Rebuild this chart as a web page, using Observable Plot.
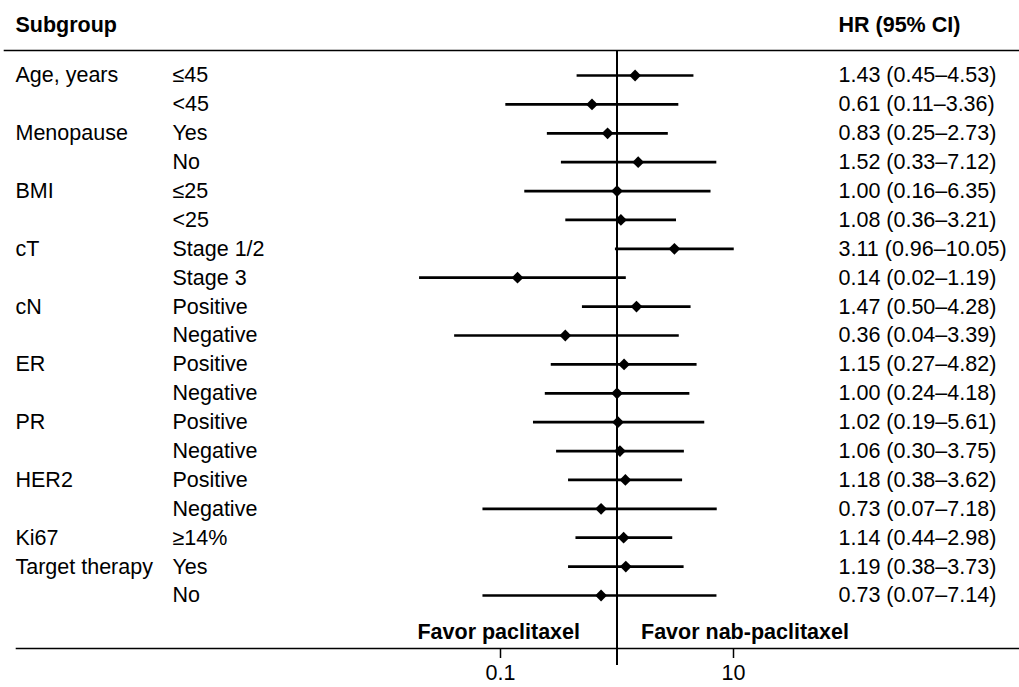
<!DOCTYPE html>
<html>
<head>
<meta charset="utf-8">
<script src="https://cdn.jsdelivr.net/npm/d3@7"></script>
<script src="https://cdn.jsdelivr.net/npm/@observablehq/plot@0.6"></script>
<style>
  body { margin: 0; background: #fff; }
  #chart svg { display: block; }
</style>
</head>
<body>
<div id="chart"></div>
<script>
const groups = ["Age, years", "", "Menopause", "", "BMI", "", "cT", "", "cN", "", "ER", "", "PR", "", "HER2", "", "Ki67", "Target therapy", ""];
const levels = ["≤45", "<45", "Yes", "No", "≤25", "<25", "Stage 1/2", "Stage 3", "Positive", "Negative", "Positive", "Negative", "Positive", "Negative", "Positive", "Negative", "≥14%", "Yes", "No"];
const hr = [1.43, 0.61, 0.83, 1.52, 1.00, 1.08, 3.11, 0.14, 1.47, 0.36, 1.15, 1.00, 1.02, 1.06, 1.18, 0.73, 1.14, 1.19, 0.73];
const lo = [0.45, 0.11, 0.25, 0.33, 0.16, 0.36, 0.96, 0.02, 0.50, 0.04, 0.27, 0.24, 0.19, 0.30, 0.38, 0.07, 0.44, 0.38, 0.07];
const hi = [4.53, 3.36, 2.73, 7.12, 6.35, 3.21, 10.05, 1.19, 4.28, 3.39, 4.82, 4.18, 5.61, 3.75, 3.62, 7.18, 2.98, 3.73, 7.14];
const xTicks = [0.1, 10];
const xTickLabels = ["0.1", "10"];

const rows = levels.map((lv, i) => ({
  row: i + 1,
  group: groups[i],
  level: lv,
  hr: hr[i],
  lo: lo[i],
  hi: hi[i],
  label: `${hr[i].toFixed(2)} (${lo[i].toFixed(2)}–${hi[i].toFixed(2)})`
}));

const FONT = "'Liberation Sans', Arial, Helvetica, sans-serif";
const FS = 21.5;

const chart = Plot.plot({
  width: 1019,
  height: 687,
  marginTop: 50,
  marginBottom: 39,
  marginLeft: 0,
  marginRight: 0,
  style: { fontFamily: FONT, fontSize: FS + "px", color: "#000", background: "#fff" },
  x: { type: "log", domain: [0.1, 10], range: [500, 733] },
  y: { domain: [1, 19], range: [75, 595], axis: null },
  marks: [
    Plot.frame({ anchor: "top", insetLeft: 4, stroke: "#000", strokeWidth: 1.6 }),
    Plot.frame({ anchor: "bottom", insetLeft: 16, stroke: "#000", strokeWidth: 1.6 }),
    Plot.ruleX([1], { stroke: "#000", strokeWidth: 2, insetBottom: -17 }),
    Plot.link(rows, { x1: "lo", x2: "hi", y1: "row", y2: "row", stroke: "#000", strokeWidth: 2.7 }),
    Plot.dot(rows, { x: "hr", y: "row", symbol: "diamond2", r: 5.3, fill: "#000", stroke: "none" }),
    Plot.text(rows, { y: "row", text: "group", frameAnchor: "left", dx: 15, textAnchor: "start", fontSize: FS, fill: "#000" }),
    Plot.text(rows, { y: "row", text: "level", frameAnchor: "left", dx: 172, textAnchor: "start", fontSize: FS, fill: "#000" }),
    Plot.text(rows, { y: "row", text: "label", frameAnchor: "left", dx: 838, textAnchor: "start", fontSize: FS, fill: "#000" }),
    Plot.text(["Subgroup"], { frameAnchor: "top-left", dx: 15, dy: -25, lineAnchor: "middle", textAnchor: "start", fontSize: FS, fontWeight: "bold", fill: "#000" }),
    Plot.text(["HR (95% CI)"], { frameAnchor: "top-left", dx: 838, dy: -25, lineAnchor: "middle", textAnchor: "start", fontSize: FS, fontWeight: "bold", fill: "#000" }),
    Plot.text(["Favor paclitaxel"], { x: [1], frameAnchor: "bottom", dx: -37, dy: -16, lineAnchor: "middle", textAnchor: "end", fontSize: FS, fontWeight: "bold", fill: "#000" }),
    Plot.text(["Favor nab-paclitaxel"], { x: [1], frameAnchor: "bottom", dx: 24, dy: -16, lineAnchor: "middle", textAnchor: "start", fontSize: FS, fontWeight: "bold", fill: "#000" }),
    Plot.axisX({ ticks: xTicks, tickFormat: (d) => xTickLabels[xTicks.indexOf(d)], tickSize: 10, tickPadding: 6, fontSize: FS, stroke: "#000", strokeWidth: 1.5, fill: "#000" })
  ]
});

document.getElementById("chart").appendChild(chart);
</script>
</body>
</html>
